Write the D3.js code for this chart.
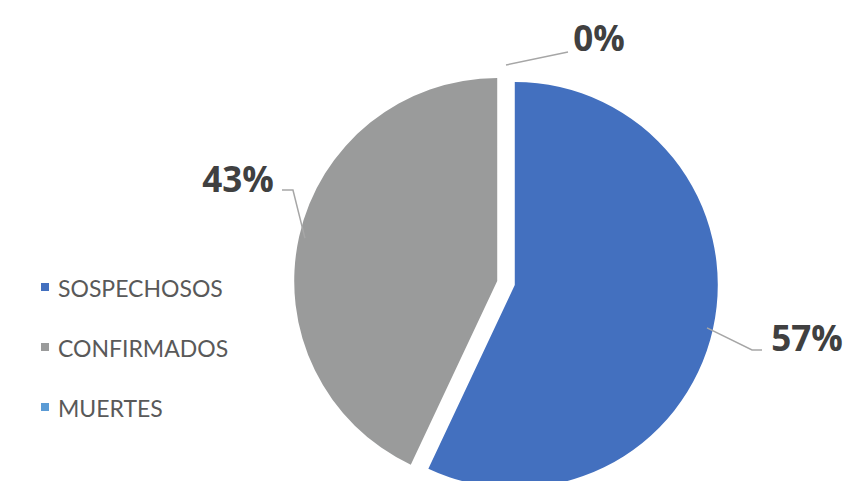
<!DOCTYPE html>
<html>
<head>
<meta charset="utf-8">
<script src="https://cdn.jsdelivr.net/npm/d3@7"></script>
<style>
  body { margin: 0; background: #fff; }
  svg { display: block; }
</style>
</head>
<body>
<script>
// data
const categories = ["SOSPECHOSOS", "CONFIRMADOS", "MUERTES"]
const values = [57, 43, 0]
const colors = ["#4370bf", "#9a9b9b", "#5b9bd5"]

const width = 846, height = 481
const cx = 506, cy = 283, radius = 203, explode = 9

// leader line bends, relative to the point on the rim (manual placement like the original)
const leaders = [
    { bend: [45, 22], tail: [10, 0], text: [45, -12] },
    { bend: [-12, -48], tail: [-11, 0], text: [-44, -12] },
    { bend: [62, -13], tail: [0, 0], text: [31, -15] }
]

const svg = d3.select("body").append("svg")
    .attr("width", width)
    .attr("height", height)

const pie = d3.pie().sort(null).value(d => d)
const arcs = pie(values)
const arc = d3.arc().innerRadius(0).outerRadius(radius)

const dir = a => [Math.sin(a), -Math.cos(a)]

const mainG = svg.append("g")
    .attr("transform", `translate(${cx},${cy})`)

mainG.selectAll("path.slice")
    .data(arcs)
    .enter()
    .append("path")
    .attr("class", "slice")
    .attr("d", arc)
    .attr("fill", (d, i) => colors[i])
    .attr("transform", d => {
        const m = dir((d.startAngle + d.endAngle) / 2)
        return `translate(${m[0] * explode},${m[1] * explode})`
    })

// labels
const total = d3.sum(values)
arcs.forEach((d, i) => {
    const mid = (d.startAngle + d.endAngle) / 2
    const m = dir(mid)
    const rr = radius + explode + (d.value === 0 ? 6 : -6)
    const p0 = [m[0] * rr, m[1] * rr]
    const L = leaders[i]
    const p1 = [p0[0] + L.bend[0], p0[1] + L.bend[1]]
    const p2 = [p1[0] + L.tail[0], p1[1] + L.tail[1]]
    mainG.append("polyline")
        .attr("points", [p0, p1, p2].map(p => p.join(",")).join(" "))
        .attr("fill", "none")
        .attr("stroke", "#a6a6a6")
        .attr("stroke-width", 1.5)
    mainG.append("text")
        .attr("x", p2[0] + L.text[0])
        .attr("y", p2[1] + L.text[1])
        .attr("text-anchor", "middle")
        .attr("dominant-baseline", "central")
        .attr("font-family", "'Open Sans', sans-serif")
        .attr("font-weight", "bold")
        .attr("font-size", 35)
        .attr("fill", "#404040")
        .text(Math.round(d.value / total * 100) + "%")
})

// legend
const legend = svg.append("g")
    .attr("transform", "translate(41,287)")

const item = legend.selectAll("g")
    .data(categories)
    .enter()
    .append("g")
    .attr("transform", (d, i) => `translate(0,${i * 60})`)

item.append("rect")
    .attr("x", 0)
    .attr("y", -4)
    .attr("width", 8)
    .attr("height", 8)
    .attr("fill", (d, i) => colors[i])

item.append("text")
    .attr("x", 17)
    .attr("y", 1)
    .attr("dominant-baseline", "central")
    .attr("font-family", "Lato, sans-serif")
    .attr("font-size", 23)
    .attr("fill", "#595959")
    .text(d => d)
</script>
</body>
</html>
